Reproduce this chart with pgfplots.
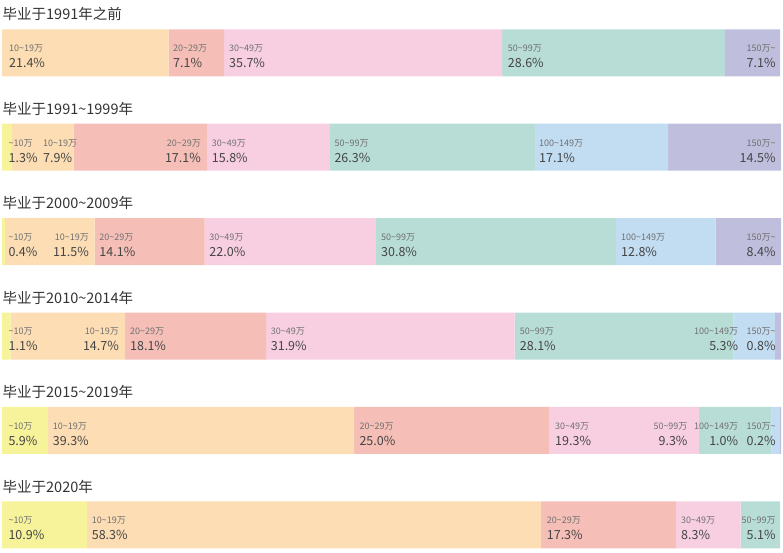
\documentclass[border=0pt]{standalone}
\usepackage{pgfplots}
\pgfplotsset{compat=1.18}
\usepackage{pgfplotstable}
\usepackage{fontspec}
\setmainfont{Noto Sans CJK SC}

\definecolor{cA}{HTML}{F7F39A}
\definecolor{cB}{HTML}{FCDDB4}
\definecolor{cC}{HTML}{F5BFB7}
\definecolor{cD}{HTML}{F8CFE1}
\definecolor{cE}{HTML}{B8DDD7}
\definecolor{cF}{HTML}{C2DCF1}
\definecolor{cG}{HTML}{BFBEDD}
\definecolor{labgray}{HTML}{707070}
\definecolor{pctgray}{HTML}{444444}
\definecolor{titlegray}{HTML}{333333}

% bar centre (y, in px from top), share of each income band (%)
\pgfplotstableread{
y     c1   c2   c3   c4   c5   c6   c7
52.8  0    21.4 7.1  35.7 28.6 0    7.1
147.2 1.3  7.9  17.1 15.8 26.3 17.1 14.5
241.6 0.4  11.5 14.1 22.0 30.8 12.8 8.4
336.0 1.1  14.7 18.1 31.9 28.1 5.3  0.8
430.4 5.9  39.3 25.0 19.3 9.3  1.0  0.2
524.8 10.9 58.3 17.3 8.3  5.1  0    0
}\datatab

\pgfplotsset{base/.style={
  at={(0,0)}, anchor=south west,
  scale only axis, width=783pt, height=553pt,
  xmin=-0.2567, xmax=100.2567,
  ymin=0, ymax=553, y dir=reverse,
  axis lines=none, ticks=none, clip=false}}

\newcommand{\tl}{\textasciitilde}
% #1 x (axis), #2 bar top (axis y), #3 west/east, #4 band, #5 percent
\newcommand{\seg}[5]{%
  \node[anchor=base #3, inner sep=0pt, text=labgray,
        font=\fontsize{9}{9}\selectfont, yshift=-22.4pt] at (axis cs:#1,#2) {#4};
  \node[anchor=base #3, inner sep=0pt, text=pctgray,
        font=\fontsize{12.5}{12.5}\selectfont, yshift=-38.4pt] at (axis cs:#1,#2) {#5};
}
\newcommand{\ttl}[2]{%
  \node[anchor=base west, inner sep=0pt, text=titlegray,
        font=\fontsize{14.5}{14.5}\selectfont, yshift=9.3pt] at (axis cs:0.06,#1) {#2};
}

\begin{document}
\begin{tikzpicture}
\useasboundingbox (0,0) rectangle (783pt,553pt);
\begin{axis}[base, xbar stacked, bar width=47pt]
\addplot[fill=cA, draw=none] table[x=c1, y=y] {\datatab};
\addplot[fill=cB, draw=none] table[x=c2, y=y] {\datatab};
\addplot[fill=cC, draw=none] table[x=c3, y=y] {\datatab};
\addplot[fill=cD, draw=none] table[x=c4, y=y] {\datatab};
\addplot[fill=cE, draw=none] table[x=c5, y=y] {\datatab};
\addplot[fill=cF, draw=none] table[x=c6, y=y] {\datatab};
\addplot[fill=cG, draw=none] table[x=c7, y=y] {\datatab};
\end{axis}
\begin{axis}[base]
\ttl{29.3}{毕业于1991年之前}
\seg{0.90}{29.3}{west}{10\tl19万}{21.4\%}
\seg{21.95}{29.3}{west}{20\tl29万}{7.1\%}
\seg{29.14}{29.3}{west}{30\tl49万}{35.7\%}
\seg{64.92}{29.3}{west}{50\tl99万}{28.6\%}
\seg{99.32}{29.3}{east}{150万\tl}{7.1\%}

\ttl{123.7}{毕业于1991\tl1999年}
\seg{0.83}{123.7}{west}{\tl10万}{1.3\%}
\seg{5.26}{123.7}{west}{10\tl19万}{7.9\%}
\seg{25.55}{123.7}{east}{20\tl29万}{17.1\%}
\seg{26.92}{123.7}{west}{30\tl49万}{15.8\%}
\seg{42.66}{123.7}{west}{50\tl99万}{26.3\%}
\seg{68.93}{123.7}{west}{100\tl149万}{17.1\%}
\seg{99.32}{123.7}{east}{150万\tl}{14.5\%}

\ttl{218.1}{毕业于2000\tl2009年}
\seg{0.81}{218.1}{west}{\tl10万}{0.4\%}
\seg{11.17}{218.1}{east}{10\tl19万}{11.5\%}
\seg{12.49}{218.1}{west}{20\tl29万}{14.1\%}
\seg{26.61}{218.1}{west}{30\tl49万}{22.0\%}
\seg{48.65}{218.1}{west}{50\tl99万}{30.8\%}
\seg{79.46}{218.1}{west}{100\tl149万}{12.8\%}
\seg{99.32}{218.1}{east}{150万\tl}{8.4\%}

\ttl{312.5}{毕业于2010\tl2014年}
\seg{0.83}{312.5}{west}{\tl10万}{1.1\%}
\seg{15.02}{312.5}{east}{10\tl19万}{14.7\%}
\seg{16.43}{312.5}{west}{20\tl29万}{18.1\%}
\seg{34.49}{312.5}{west}{30\tl49万}{31.9\%}
\seg{66.46}{312.5}{west}{50\tl99万}{28.1\%}
\seg{94.52}{312.5}{east}{100\tl149万}{5.3\%}
\seg{99.32}{312.5}{east}{150万\tl}{0.8\%}

\ttl{406.9}{毕业于2015\tl2019年}
\seg{0.81}{406.9}{west}{\tl10万}{5.9\%}
\seg{6.51}{406.9}{west}{10\tl19万}{39.3\%}
\seg{45.87}{406.9}{west}{20\tl29万}{25.0\%}
\seg{70.99}{406.9}{west}{30\tl49万}{19.3\%}
\seg{88.02}{406.9}{east}{50\tl99万}{9.3\%}
\seg{94.52}{406.9}{east}{100\tl149万}{1.0\%}
\seg{99.32}{406.9}{east}{150万\tl}{0.2\%}

\ttl{501.3}{毕业于2020年}
\seg{0.81}{501.3}{west}{\tl10万}{10.9\%}
\seg{11.51}{501.3}{west}{10\tl19万}{58.3\%}
\seg{69.92}{501.3}{west}{20\tl29万}{17.3\%}
\seg{87.16}{501.3}{west}{30\tl49万}{8.3\%}
\seg{99.32}{501.3}{east}{50\tl99万}{5.1\%}
\end{axis}
\end{tikzpicture}
\end{document}
